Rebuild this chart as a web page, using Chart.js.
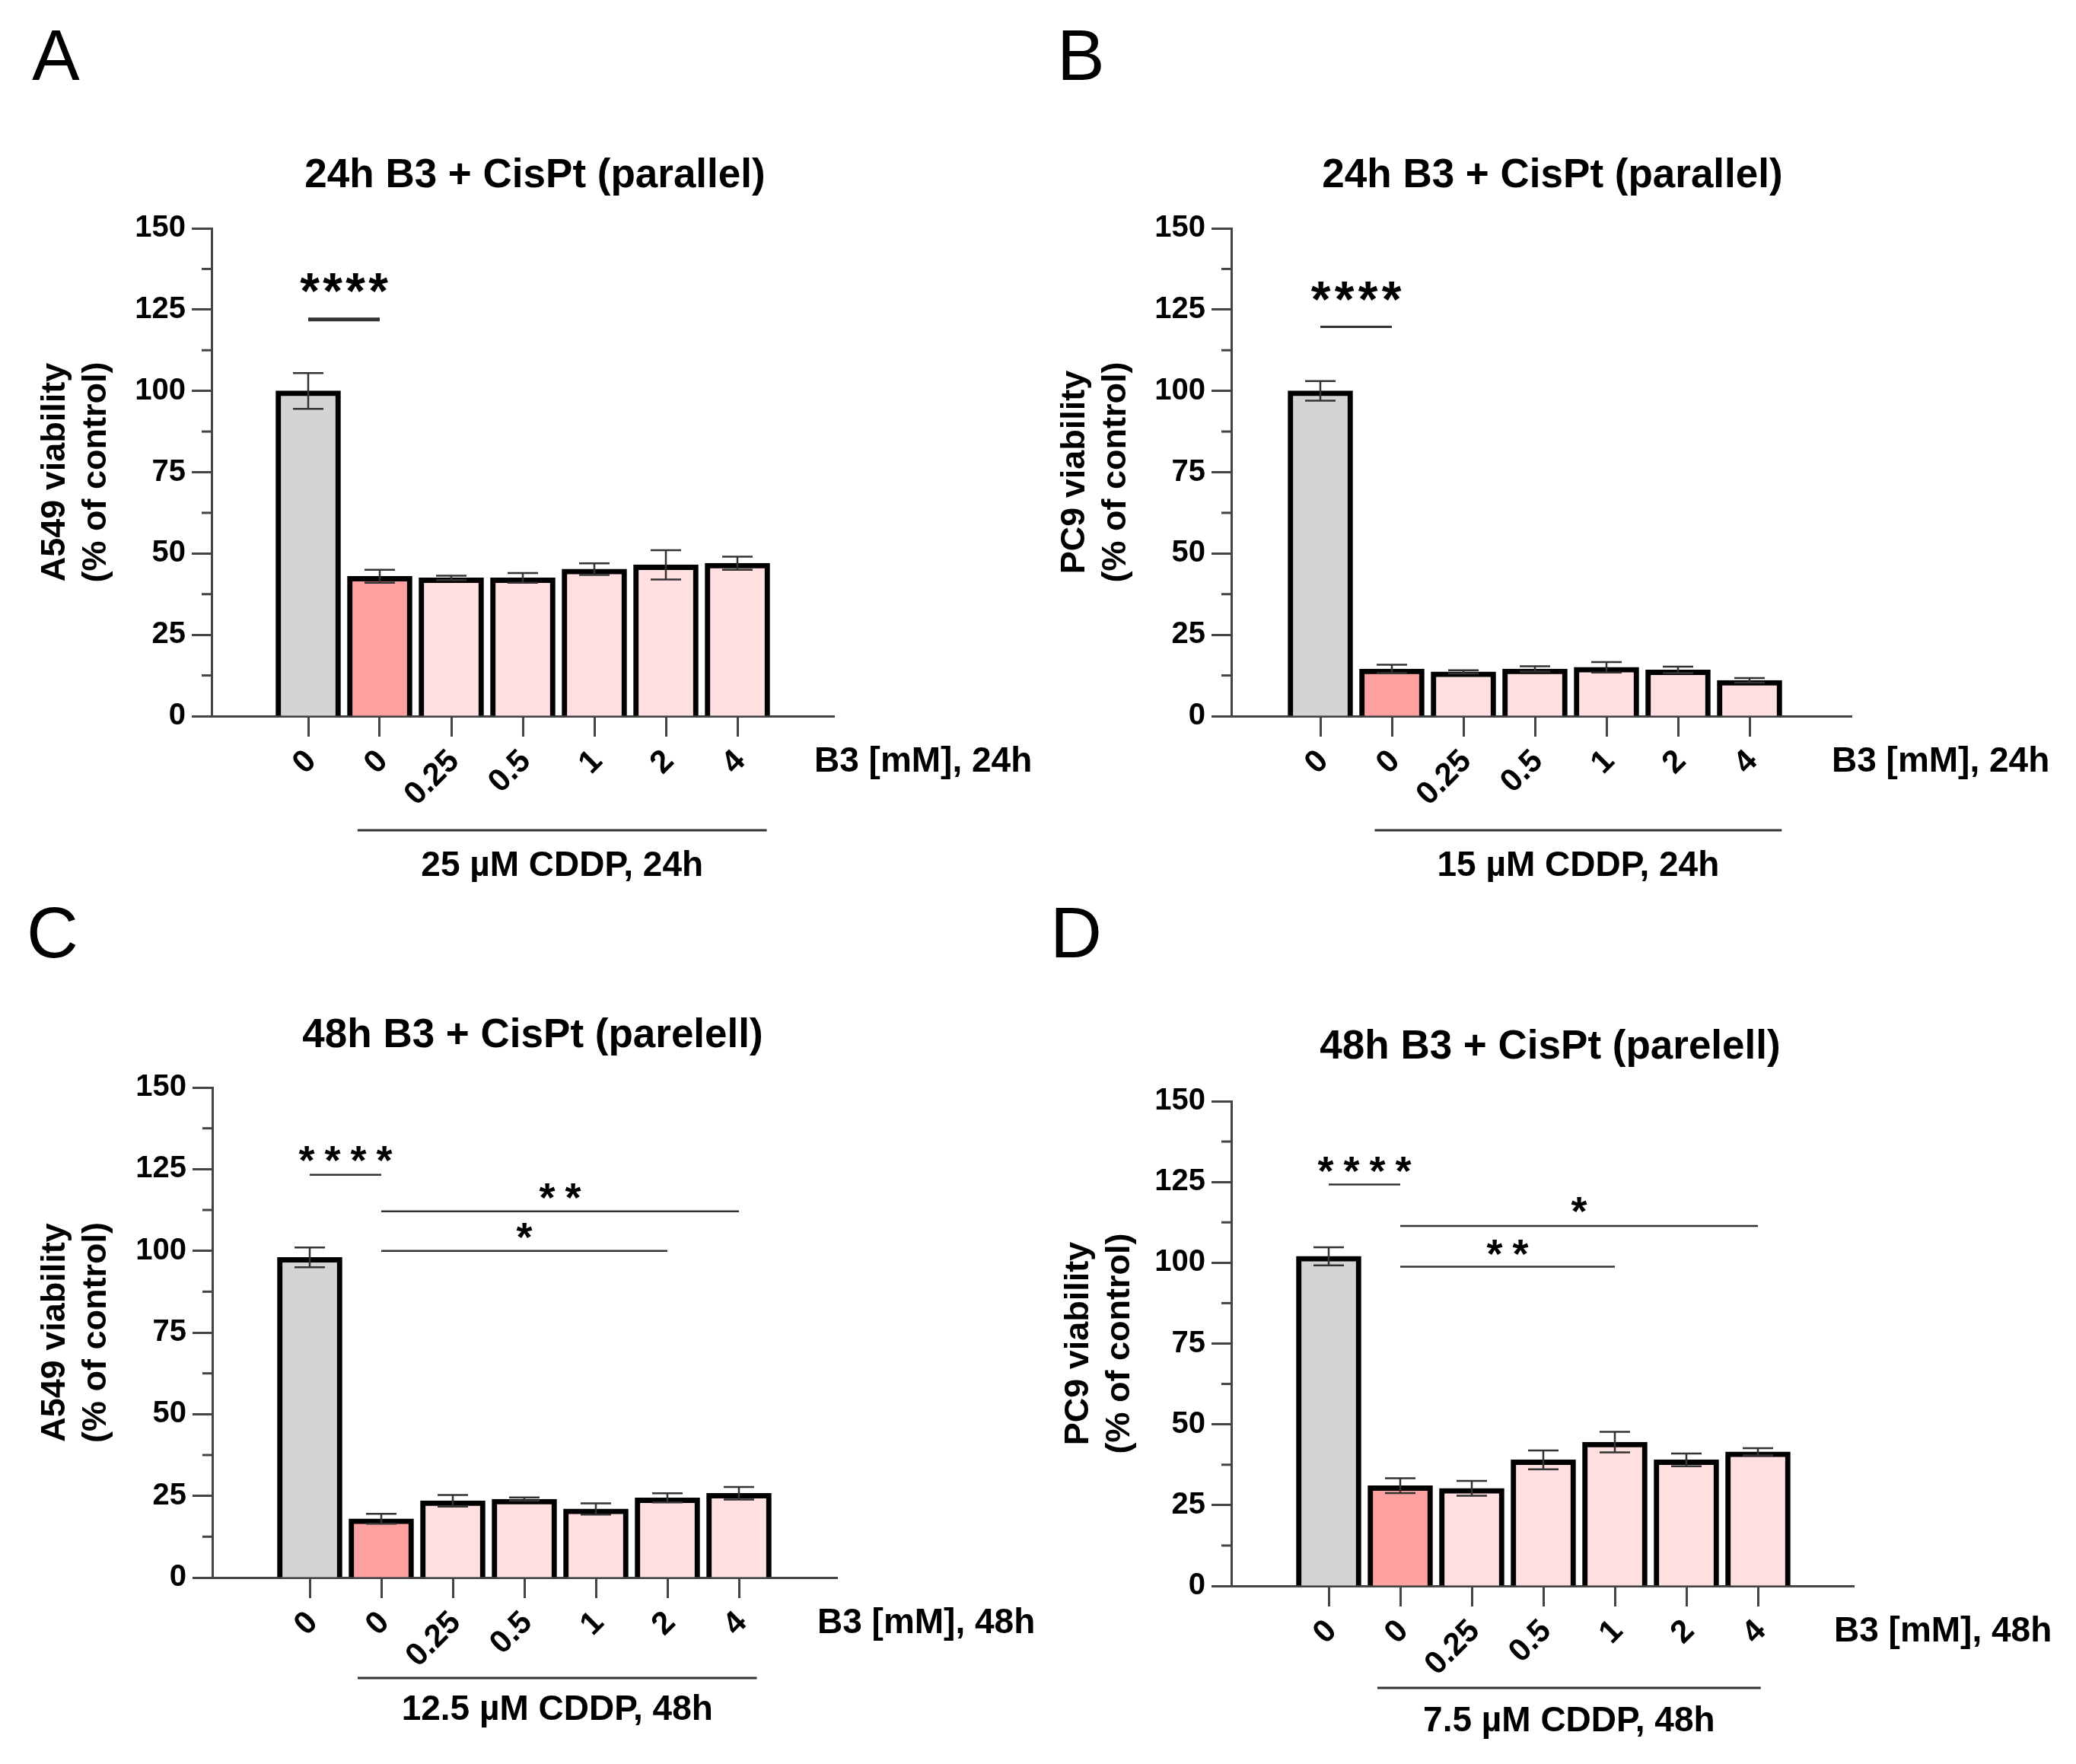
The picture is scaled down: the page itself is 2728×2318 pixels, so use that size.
<!DOCTYPE html>
<html>
<head>
<meta charset="utf-8">
<script src="https://cdn.jsdelivr.net/npm/chart.js@4.4.1/dist/chart.umd.min.js"></script>
<style>
  html, body { margin: 0; padding: 0; background: #fff; }
  #page { position: relative; width: 2728px; height: 2318px; }
  canvas { position: absolute; }
</style>
</head>
<body>
<div id="page">
  <canvas id="panelA" width="1364" height="1159" style="left:0px;top:0px;width:1364px;height:1159px"></canvas>
  <canvas id="panelB" width="1364" height="1159" style="left:1364px;top:0px;width:1364px;height:1159px"></canvas>
  <canvas id="panelC" width="1364" height="1159" style="left:0px;top:1159px;width:1364px;height:1159px"></canvas>
  <canvas id="panelD" width="1364" height="1159" style="left:1364px;top:1159px;width:1364px;height:1159px"></canvas>
</div>
<script>
// B3 doses (mM) on the x axis, same for every panel
const doseLabels = ['0', '0', '0.25', '0.5', '1', '2', '4'];
const yTicks = [0, 25, 50, 75, 100, 125, 150];

// viability, % of control (mean and error)
const a549_24h = [100, 43, 42.5, 42.5, 45.2, 46.5, 47];
const a549_24h_err = [5.5, 2, 0.7, 1.5, 1.8, 4.5, 2];
const pc9_24h = [100, 14.5, 13.6, 14.5, 15, 14.2, 11];
const pc9_24h_err = [3, 1.3, 0.5, 0.8, 1.6, 1, 0.7];
const a549_48h = [98, 18, 23.5, 24, 21, 24.4, 25.8];
const a549_48h_err = [3, 1.5, 1.8, 0.5, 1.7, 1.4, 1.9];
const pc9_48h = [102, 31, 30.2, 39, 44.5, 39, 41.5];
const pc9_48h_err = [2.8, 2.3, 2.3, 2.9, 3.2, 2, 1.1];

// significance: [from bar, to bar, line at %, stars at %, label]
const sigA = [[0, 1, 122, 131.3, '****']];
const sigB = [[0, 1, 119.7, 128.7, '****']];
const sigC = [[0, 1, 123.3, 129.5, '****'], [1, 6, 112.1, 118.1, '**'], [1, 5, 100, 106, '*']];
const sigD = [[0, 1, 124.2, 130.1, '****'], [1, 6, 111.4, 117.8, '*'], [1, 4, 98.8, 104.5, '**']];

const barColors = ['#d4d4d4', '#ffa1a1', '#ffdfe0', '#ffdfe0', '#ffdfe0', '#ffdfe0', '#ffdfe0'];
const FONT = "'Liberation Sans', Arial, sans-serif";
const W = 1364, H = 1159, PITCH = 94;

function makePanel(canvasId, p) {
  const ctx = document.getElementById(canvasId).getContext('2d');
  const xMin = -(p.firstBar - p.left) / PITCH;
  const xMax = (p.right - p.firstBar) / PITCH;

  const decor = {
    id: 'decor',
    afterDatasetsDraw(chart) {
      const c = chart.ctx, xs = chart.scales.x, ys = chart.scales.y;
      c.save();
      c.strokeStyle = '#333';
      c.lineWidth = 2.5;
      p.values.forEach((v, i) => {
        const x = xs.getPixelForValue(i);
        const yt = ys.getPixelForValue(v + p.err[i]);
        const yb = ys.getPixelForValue(v - p.err[i]);
        c.beginPath();
        c.moveTo(x, yt); c.lineTo(x, yb);
        c.moveTo(x - 20, yt); c.lineTo(x + 20, yt);
        c.moveTo(x - 20, yb); c.lineTo(x + 20, yb);
        c.stroke();
      });
      c.restore();
    },
    afterDraw(chart) {
      const c = chart.ctx, xs = chart.scales.x, ys = chart.scales.y;
      const area = chart.chartArea;
      c.save();
      // minor ticks on y
      c.strokeStyle = '#444';
      c.lineWidth = 3;
      for (let v = 12.5; v < 150; v += 25) {
        const y = ys.getPixelForValue(v);
        c.beginPath();
        c.moveTo(area.left - 13, y);
        c.lineTo(area.left, y);
        c.stroke();
      }

      c.fillStyle = '#000';
      // panel letter
      c.font = `400 94px ${FONT}`;
      c.textAlign = 'left';
      c.textBaseline = 'alphabetic';
      c.fillText(p.letter, p.letterX, p.letterY);

      c.textBaseline = 'middle';
      // title
      c.font = `bold 53px ${FONT}`;
      c.textAlign = 'center';
      c.fillText(p.title, p.titleX, p.titleY);

      // x axis name
      c.font = `bold 46px ${FONT}`;
      c.textAlign = 'left';
      c.fillText(p.xName, area.right - 26, area.bottom + 60);

      // CDDP bracket
      const bx0 = xs.getPixelForValue(p.bracket[0]);
      const bx1 = xs.getPixelForValue(p.bracket[1]);
      const by = area.bottom + p.bracketDy;
      c.strokeStyle = '#333';
      c.lineWidth = 3;
      c.beginPath();
      c.moveTo(bx0, by); c.lineTo(bx1, by);
      c.stroke();
      c.textAlign = 'center';
      c.fillText(p.cddp, (bx0 + bx1) / 2, by + p.cddpDy);

      // significance
      p.sig.forEach(s => {
        const x0 = xs.getPixelForValue(s[0]);
        const x1 = xs.getPixelForValue(s[1]);
        const yl = ys.getPixelForValue(s[2]);
        c.lineWidth = p.sigWidth;
        c.beginPath();
        c.moveTo(x0, yl); c.lineTo(x1, yl);
        c.stroke();
        const ysx = ys.getPixelForValue(s[3]);
        const n = s[4].length;
        const mid = (x0 + x1) / 2;
        c.font = p.starFont;
        c.textAlign = 'center';
        for (let k = 0; k < n; k++) {
          const sx = mid + (k - (n - 1) / 2) * p.starPitch;
          c.fillText('*', sx, ysx + p.starShift);
        }
      });
      c.restore();
    }
  };

  return new Chart(ctx, {
    type: 'bar',
    data: {
      datasets: [{
        data: p.values.map((v, i) => ({ x: i, y: v })),
        backgroundColor: barColors,
        borderColor: '#000',
        borderWidth: 7,
        barThickness: 85
      }]
    },
    options: {
      responsive: false,
      animation: false,
      devicePixelRatio: 1,
      layout: { padding: { left: 0, top: p.top, right: W - p.right, bottom: 0 } },
      plugins: { legend: { display: false }, tooltip: { enabled: false } },
      scales: {
        x: {
          type: 'linear',
          offset: false,
          min: xMin,
          max: xMax,
          afterBuildTicks: s => { s.ticks = doseLabels.map((_, i) => ({ value: i })); },
          afterFit: s => { s.height = H - p.bottom; },
          ticks: {
            callback: v => doseLabels[v],
            font: { family: FONT, size: 42, weight: 'bold' },
            color: '#000',
            minRotation: 45,
            maxRotation: 45,
            autoSkip: false,
            padding: 8,
            labelOffset: 4
          },
          grid: { offset: false, drawOnChartArea: false, tickLength: 27, tickWidth: 3, tickColor: '#444' },
          border: { color: '#444', width: 3 }
        },
        y: {
          min: 0,
          max: 150,
          afterBuildTicks: s => { s.ticks = yTicks.map(v => ({ value: v })); },
          afterFit: s => { s.width = p.left; },
          ticks: {
            font: { family: FONT, size: 40, weight: 'bold' },
            color: '#000',
            padding: 8
          },
          grid: { drawOnChartArea: false, tickLength: 26, tickWidth: 3, tickColor: '#444' },
          border: { color: '#444', width: 3 },
          title: {
            display: true,
            text: p.yTitle,
            color: '#000',
            font: { family: FONT, size: 45, weight: 'bold', lineHeight: 1.2 },
            padding: { top: p.yTitlePad, bottom: 0 }
          }
        }
      }
    },
    plugins: [decor]
  });
}

const bigStars = `bold 66px ${FONT}`;
const smallStars = `bold 54px ${FONT}`;

makePanel('panelA', {
  values: a549_24h, err: a549_24h_err, sig: sigA,
  left: 278, right: 1096, top: 300, bottom: 941, firstBar: 405,
  letter: 'A', letterX: 42, letterY: 105,
  title: '24h B3 + CisPt (parallel)', titleX: 703, titleY: 231,
  yTitle: ['A549 viability', '(% of control)'], yTitlePad: 46,
  xName: 'B3 [mM], 24h',
  bracket: [0.69, 6.41], bracketDy: 150, cddp: '25 µM CDDP, 24h', cddpDy: 47,
  sigWidth: 5, starFont: bigStars, starPitch: 30, starShift: 7
});

makePanel('panelB', {
  values: pc9_24h, err: pc9_24h_err, sig: sigB,
  left: 254, right: 1069, top: 300, bottom: 941, firstBar: 371,
  letter: 'B', letterX: 25, letterY: 105,
  title: '24h B3 + CisPt (parallel)', titleX: 676, titleY: 231,
  yTitle: ['PC9 viability', '(% of control)'], yTitlePad: 22,
  xName: 'B3 [mM], 24h',
  bracket: [0.76, 6.45], bracketDy: 150, cddp: '15 µM CDDP, 24h', cddpDy: 47,
  sigWidth: 3, starFont: bigStars, starPitch: 31, starShift: 7
});

makePanel('panelC', {
  values: a549_48h, err: a549_48h_err, sig: sigC,
  left: 279, right: 1100, top: 270, bottom: 914, firstBar: 407,
  letter: 'C', letterX: 35, letterY: 99,
  title: '48h B3 + CisPt (parelell)', titleX: 700, titleY: 202,
  yTitle: ['A549 viability', '(% of control)'], yTitlePad: 46,
  xName: 'B3 [mM], 48h',
  bracket: [0.67, 6.25], bracketDy: 132, cddp: '12.5 µM CDDP, 48h', cddpDy: 42,
  sigWidth: 2.5, starFont: smallStars, starPitch: 34, starShift: 11
});

makePanel('panelD', {
  values: pc9_48h, err: pc9_48h_err, sig: sigD,
  left: 254, right: 1072, top: 288, bottom: 925, firstBar: 382,
  letter: 'D', letterX: 16, letterY: 99,
  title: '48h B3 + CisPt (parelell)', titleX: 673, titleY: 217,
  yTitle: ['PC9 viability', '(% of control)'], yTitlePad: 27,
  xName: 'B3 [mM], 48h',
  bracket: [0.68, 6.04], bracketDy: 134, cddp: '7.5 µM CDDP, 48h', cddpDy: 44,
  sigWidth: 2.5, starFont: smallStars, starPitch: 34, starShift: 11
});
</script>
</body>
</html>
